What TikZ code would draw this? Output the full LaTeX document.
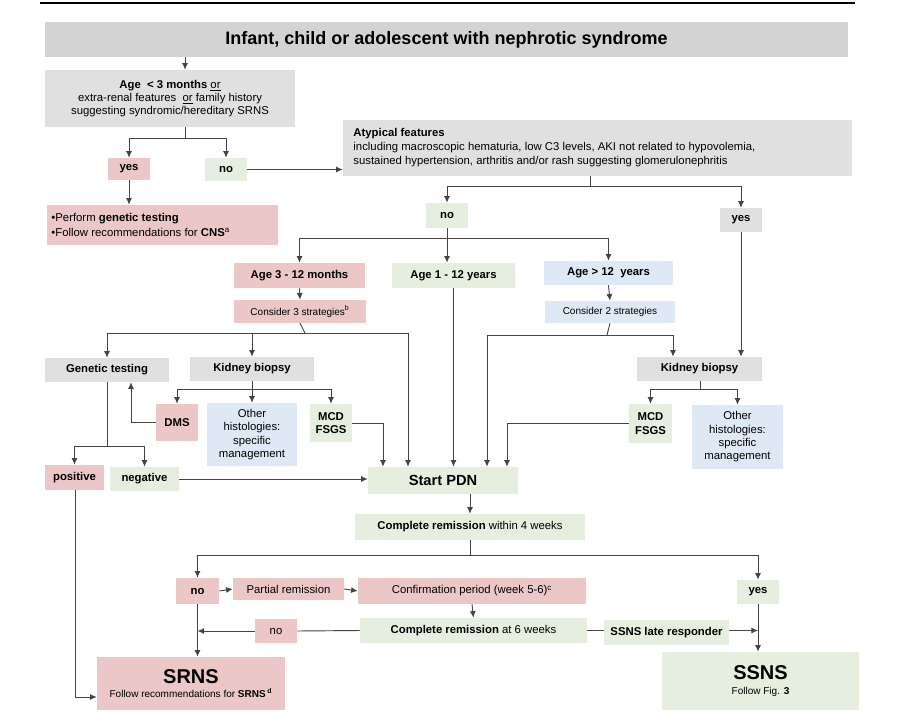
\documentclass[tikz,border=0pt]{standalone}
\usepackage{fontspec}
\setmainfont{Liberation Sans}
\usetikzlibrary{arrows.meta,calc}
\definecolor{pk}{HTML}{EBC7C8}
\definecolor{gn}{HTML}{E6EFDF}
\definecolor{bl}{HTML}{DFE9F5}
\definecolor{gy}{HTML}{E0E0E0}
\definecolor{gt}{HTML}{D3D3D3}
\definecolor{ln}{HTML}{444444}
\newcommand\bx[7]{\pgfmathsetmacro\bw{(#5-#3)*0.75}\pgfmathsetmacro\bh{(#6-#4)*0.75}%
\node[box,fill=#2,minimum width=\bw pt,minimum height=\bh pt] (#1) at ({(#3+#5)/2},{(#4+#6)/2}) {#7};}
\begin{document}
\begin{tikzpicture}[x=0.75pt,y=-0.75pt,
 box/.style={inner sep=1pt,align=center,font=\fontsize{8.5}{10}\selectfont},
 b/.style={font=\fontsize{9}{11}\selectfont\bfseries},
 sm/.style={font=\fontsize{7.5}{9}\selectfont},
 l/.style={draw=ln,line width=0.7pt},
 arr/.style={l,-{Latex[length=5pt,width=4.5pt]}}]
\useasboundingbox (0,0) rectangle (917,724);
\draw[line width=1.5pt] (40,3) -- (855,3);
\bx{title}{gt}{45}{22}{848}{57}{\fontsize{13.5}{16}\selectfont\bfseries Infant, child or adolescent with nephrotic syndrome}
\bx{ageq}{gy}{45}{70}{295}{127}{\textbf{Age\ \ < 3 months} \underline{or}\\extra-renal features\ \ \underline{or} family history\\suggesting syndromic/hereditary SRNS}
\bx{yesA}{pk}{108}{158}{150}{180}{\textbf{yes}}
\bx{noA}{gn}{205}{158}{247}{181}{\textbf{no}}
\bx{cns}{pk}{47}{205}{278}{245}{}
\node[anchor=west,align=left,font=\fontsize{8.5}{11}\selectfont] at (cns.west) {\textbullet Perform \textbf{genetic testing}\\\textbullet Follow recommendations for \textbf{CNS}\textsuperscript{a}};
\bx{atyp}{gy}{343}{120}{852}{176}{}
\node[anchor=west,align=left,font=\fontsize{8.5}{10.5}\selectfont] at ($(atyp.west)+(6,0)$) {\textbf{Atypical features}\\including macroscopic hematuria, low C3 levels, AKI not related to hypovolemia,\\sustained hypertension, arthritis and/or rash suggesting glomerulonephritis};
\bx{noB}{gn}{426}{203}{468}{228}{\textbf{no}}
\bx{yesB}{gy}{720}{208}{762}{232}{\textbf{yes}}
\bx{age3}{pk}{234}{263}{365}{288}{\textbf{Age 3 - 12 months}}
\bx{age1}{gn}{392}{263}{515}{288}{\textbf{Age 1 - 12 years}}
\bx{age12}{bl}{544}{261}{673}{285}{\textbf{Age > 12\ \ years}}
\bx{c3}{pk}{234}{300}{366}{323}{\fontsize{7.5}{9}\selectfont Consider 3 strategies\textsuperscript{b}}
\bx{c2}{bl}{545}{301}{675}{323}{\fontsize{7.5}{9}\selectfont Consider 2 strategies}
\bx{gen}{gy}{45}{358}{169}{382}{\textbf{Genetic testing}}
\bx{kbL}{gy}{190}{357}{314}{381}{\textbf{Kidney biopsy}}
\bx{kbR}{gy}{637}{357}{762}{381}{\textbf{Kidney biopsy}}
\bx{dms}{pk}{156}{404}{198}{441}{\textbf{DMS}}
\bx{othL}{bl}{207}{403}{297}{466}{Other\\histologies:\\specific\\management}
\bx{mcdL}{gn}{310}{404}{352}{442}{\textbf{MCD}\\\textbf{FSGS}}
\bx{mcdR}{gn}{629}{404}{672}{443}{\textbf{MCD}\\\textbf{FSGS}}
\bx{othR}{bl}{692}{405}{783}{469}{Other\\histologies:\\specific\\management}
\bx{pos}{pk}{45}{465}{104}{490}{\textbf{positive}}
\bx{neg}{gn}{110}{467}{179}{491}{\textbf{negative}}
\bx{pdn}{gn}{368}{467}{518}{494}{\fontsize{11}{13}\selectfont\bfseries Start PDN}
\bx{cr4}{gn}{355}{514}{585}{540}{\textbf{Complete remission} within 4 weeks}
\bx{noC}{pk}{176}{578}{219}{604}{\textbf{no}}
\bx{part}{pk}{233}{578}{344}{600}{Partial remission}
\bx{conf}{pk}{358}{578}{586}{604}{Confirmation period (week 5-6)\textsuperscript{c}}
\bx{yesC}{gn}{737}{580}{779}{604}{\textbf{yes}}
\bx{cr6}{gn}{360}{618}{587}{643}{\textbf{Complete remission} at 6 weeks}
\bx{late}{gn}{604}{620}{729}{645}{\textbf{SSNS late responder}}
\bx{srns}{pk}{97}{657}{285}{710}{{\fontsize{15}{17}\selectfont\bfseries SRNS}\\[1pt]{\fontsize{7.5}{9}\selectfont Follow recommendations for \textbf{SRNS}\,\textsuperscript{\textbf{d}}}}
\bx{ssns}{gn}{662}{652}{859}{710}{{\fontsize{15}{17}\selectfont\bfseries SSNS}\\[1pt]{\fontsize{7.5}{9}\selectfont Follow Fig. \textbf{3}}}
% connectors
\draw[arr] (title.south -| 185,0) -- (ageq.north -| 185,0);
\coordinate (j1) at (185,138);
\draw[l] (ageq.south -| j1) -- (j1);
\draw[arr] (j1) -| (yesA.north);
\draw[arr] (j1) -| (noA.north);
\draw[arr] (noA.east) -- (atyp.west |- noA.east);
\draw[arr] (yesA.south) -- (yesA.south |- cns.north);
\coordinate (j2) at (590,186);
\draw[l] (atyp.south -| j2) -- (j2);
\draw[arr] (j2) -| (noB.north);
\draw[arr] (j2) -| (yesB.north);
\coordinate (j3) at (447,238);
\draw[l] (noB.south) -- (noB.south |- j3);
\draw[arr] (j3) -| (age3.north);
\draw[arr] (j3) -| (age12.north);
\draw[arr] (noB.south |- j3) -- (age1.north -| j3);
\draw[arr] (age3.south) -- (c3.north);
\draw[arr] (age12.south) -- (c2.north);
\coordinate (j4) at (305,333);
\draw[l] (c3.south) -- (j4);
\draw[arr] (j4) -| (gen.north);
\draw[arr] (kbL.north |- j4) -- (kbL.north);
\draw[arr] (j4) -| (pdn.north -| 408,0);
\coordinate (j5) at (252,389);
\draw[l] (kbL.south) -- (j5);
\draw[arr] (j5) -| (dms.north);
\draw[arr] (j5) -- (othL.north);
\draw[arr] (j5) -| (mcdL.north);
\draw[arr] (dms.west) -| (gen.south -| 131,0);
\coordinate (j6) at (107,446);
\draw[l] (gen.south -| j6) -- (j6);
\draw[arr] (j6) -| (pos.north);
\draw[arr] (j6) -| (neg.north);
\draw[arr] (neg.east) -- (pdn.west |- neg.east);
\draw[arr] (mcdL.east) -| (pdn.north -| 383,0);
\draw[arr] (age1.south) -- (age1.south |- pdn.north);
\coordinate (j7) at (607,335);
\draw[l] (c2.south) -- (j7);
\draw[arr] (j7) -| (pdn.north -| 487,0);
\draw[arr] (j7) -| (kbR.north -| 673,0);
\draw[arr] (yesB.south) -- (kbR.north -| yesB.south);
\coordinate (j8) at (700,389);
\draw[l] (kbR.south -| j8) -- (j8);
\draw[arr] (j8) -| (mcdR.north);
\draw[arr] (j8) -| (othR.north);
\draw[arr] (mcdR.west) -| (pdn.north -| 507,0);
\draw[arr] (pdn.south -| cr4.north) -- (cr4.north);
\coordinate (j9) at (470,555);
\draw[l] (cr4.south) -- (cr4.south |- j9);
\draw[arr] (cr4.south |- j9) -| (noC.north);
\draw[arr] (cr4.south |- j9) -| (yesC.north);
\draw[arr] (noC.east) -- (part.west);
\draw[arr] (part.east) -- (conf.west);
\draw[arr] (conf.south) -- (cr6.north);
\bx{noD}{pk}{255}{619}{297}{643}{no}
\draw[l] (cr6.west) -- (noD.east);
\draw[arr] (noD.west) -- (noC.south |- noD.west);
\draw[arr] (noC.south) -- (srns.north -| noC.south);
\draw[l] (cr6.east) -- (late.west |- cr6.east);
\draw[arr] (late.east |- cr6.east) -- (yesC.south |- cr6.east);
\draw[arr] (yesC.south) -- (ssns.north -| yesC.south);
\draw[arr] (pos.south -| 75,0) |- (srns.west |- 0,697);
\end{tikzpicture}
\end{document}
